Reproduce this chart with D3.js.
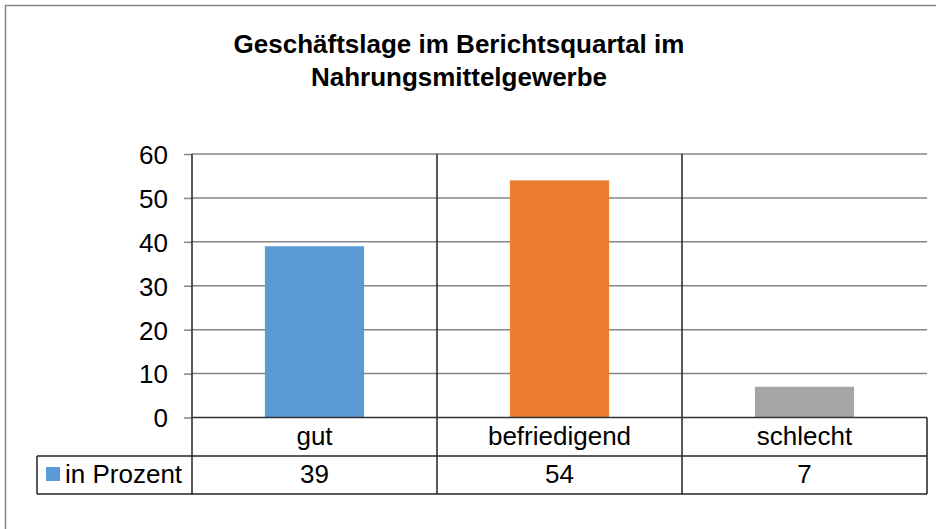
<!DOCTYPE html>
<html lang="de">
<head>
<meta charset="UTF-8">
<title>Geschäftslage im Berichtsquartal</title>
<script src="https://d3js.org/d3.v7.min.js"></script>
<style>
  body { margin: 0; background: #fff; }
  svg text { font-family: "Liberation Sans", Arial, sans-serif; fill: #000; }
  .title { font-size: 26px; font-weight: bold; text-anchor: middle; }
  .cell-text { font-size: 26px; text-anchor: middle; }
</style>
</head>
<body>
<svg id="chart" width="936" height="529"></svg>
<script>
// data
const categories = ["gut", "befriedigend", "schlecht"];
const values = [39, 54, 7];
const seriesName = "in Prozent";
const yTicks = [0, 10, 20, 30, 40, 50, 60];
const colors = ["#5B9BD5", "#ED7D31", "#A5A5A5"];
const titleLines = ["Geschäftslage im Berichtsquartal im", "Nahrungsmittelgewerbe"];

const svg = d3.select("#chart");

// outer frame (right and bottom edges fall outside the picture)
svg.append("rect")
  .attr("x", 5.5).attr("y", 5.5)
  .attr("width", 960).attr("height", 560)
  .attr("fill", "none")
  .attr("stroke", "#868686")
  .attr("stroke-width", 1.5);

// title
svg.selectAll(".title")
  .data(titleLines)
  .enter().append("text")
  .attr("class", "title")
  .attr("x", 459)
  .attr("y", (d, i) => 53 + i * 33)
  .text(d => d);

// layout
const plotLeft = 192, plotRight = 927;
const yTop = 154, yZero = 417.5;
const row1Bottom = 456, row2Bottom = 494;
const legendLeft = 37;

const x = d3.scaleBand()
  .domain(categories)
  .range([plotLeft, plotRight])
  .padding(0);

const y = d3.scaleLinear()
  .domain([0, 60])
  .range([yZero, yTop]);

// gridlines
svg.append("g")
  .selectAll("line")
  .data(yTicks.filter(d => d > 0))
  .enter().append("line")
  .attr("x1", plotLeft).attr("x2", plotRight)
  .attr("y1", d => y(d)).attr("y2", d => y(d))
  .attr("stroke", "#868686")
  .attr("stroke-width", 1.5);

// bars
const barW = x.bandwidth() * 0.405;
svg.append("g")
  .selectAll("rect")
  .data(values)
  .enter().append("rect")
  .attr("x", (d, i) => x(categories[i]) + (x.bandwidth() - barW) / 2)
  .attr("y", d => y(d))
  .attr("width", barW)
  .attr("height", d => y(0) - y(d))
  .attr("fill", (d, i) => colors[i]);

// y axis with ticks on the left
const yAxis = d3.axisLeft(y).tickValues(yTicks).tickSize(8).tickSizeOuter(0).tickFormat(d3.format("d"));
const gy = svg.append("g")
  .attr("transform", `translate(${plotLeft},0)`)
  .call(yAxis);
gy.select(".domain").remove();
gy.selectAll(".tick line").attr("stroke", "#868686").attr("stroke-width", 1.5);
gy.selectAll(".tick text")
  .attr("x", -24)
  .attr("dy", "0.36em")
  .style("font-size", "26px")
  .style("font-family", "'Liberation Sans', Arial, sans-serif")
  .style("fill", "#000");

// vertical lines: axis + category separators, down through the table
svg.append("g")
  .selectAll("line")
  .data(categories)
  .enter().append("line")
  .attr("x1", d => x(d)).attr("x2", d => x(d))
  .attr("y1", yTop).attr("y2", row2Bottom)
  .attr("stroke", "#222")
  .attr("stroke-width", 1.5);

// baseline (zero line)
svg.append("line")
  .attr("x1", plotLeft).attr("x2", plotRight)
  .attr("y1", yZero).attr("y2", yZero)
  .attr("stroke", "#333").attr("stroke-width", 1.5);

// data table
const tbl = svg.append("g").attr("stroke", "#222").attr("stroke-width", 1.5);
tbl.append("line").attr("x1", plotRight).attr("x2", plotRight).attr("y1", yZero).attr("y2", row2Bottom);
tbl.append("line").attr("x1", legendLeft).attr("x2", plotRight).attr("y1", row1Bottom).attr("y2", row1Bottom);
tbl.append("line").attr("x1", legendLeft).attr("x2", plotRight).attr("y1", row2Bottom).attr("y2", row2Bottom);
tbl.append("line").attr("x1", legendLeft).attr("x2", legendLeft).attr("y1", row1Bottom).attr("y2", row2Bottom);

svg.append("g")
  .selectAll("text")
  .data(categories)
  .enter().append("text")
  .attr("class", "cell-text")
  .attr("x", d => x(d) + x.bandwidth() / 2)
  .attr("y", 445)
  .text(d => d);

svg.append("g")
  .selectAll("text")
  .data(values)
  .enter().append("text")
  .attr("class", "cell-text")
  .attr("x", (d, i) => x(categories[i]) + x.bandwidth() / 2)
  .attr("y", 483)
  .text(d => d);

// legend key in table
svg.append("rect")
  .attr("x", 46).attr("y", 467)
  .attr("width", 14).attr("height", 14)
  .attr("fill", colors[0]);
svg.append("text")
  .attr("x", 65).attr("y", 483)
  .style("font-size", "26px")
  .text(seriesName);
</script>
</body>
</html>
